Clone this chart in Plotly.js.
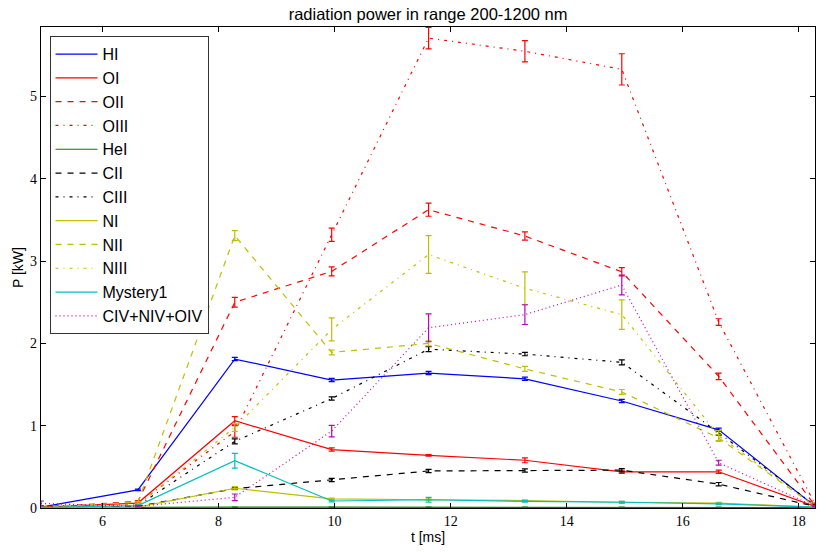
<!DOCTYPE html>
<html>
<head>
<meta charset="utf-8">
<script src="https://cdn.plot.ly/plotly-3.0.1.min.js"></script>
<style>
  html, body { margin: 0; padding: 0; background: #fff; }
  #chart { width: 826px; height: 552px; }
</style>
</head>
<body>
<div id="chart"></div>
<script>
// time axis [ms]
const t = [4.94, 6.61, 8.28, 9.95, 11.62, 13.28, 14.95, 16.62, 18.28];

// series names
const names = ['HI', 'OI', 'OII', 'OIII', 'HeI', 'CII', 'CIII', 'NI', 'NII', 'NIII', 'Mystery1', 'CIV+NIV+OIV'];

// values [kW]
const HI       = [0.01, 0.22, 1.81, 1.555, 1.64, 1.57, 1.30, 0.95, 0.02];
const OI       = [0.01, 0.06, 1.06, 0.71, 0.64, 0.58, 0.44, 0.44, 0.02];
const OII      = [0.01, 0.08, 2.50, 2.875, 3.625, 3.305, 2.87, 1.60, 0.03];
const OIII     = [0.02, 0.05, 0.93, 3.32, 5.71, 5.55, 5.33, 2.26, 0.05];
const HeI      = [0.005, 0.01, 0.01, 0.01, 0.01, 0.01, 0.01, 0.01, 0.005];
const CII      = [0.005, 0.02, 0.235, 0.34, 0.45, 0.455, 0.46, 0.29, 0.02];
const CIII     = [0.005, 0.03, 0.81, 1.33, 1.93, 1.87, 1.77, 0.915, 0.03];
const NI       = [0.005, 0.01, 0.24, 0.11, 0.10, 0.09, 0.07, 0.06, 0.01];
const NII      = [0.01, 0.07, 3.31, 1.89, 2.00, 1.69, 1.41, 0.85, 0.02];
const NIII     = [0.01, 0.04, 0.98, 2.17, 3.08, 2.67, 2.35, 0.88, 0.02];
const Mystery1 = [0.005, 0.03, 0.575, 0.085, 0.10, 0.08, 0.07, 0.05, 0.01];
const CIV      = [0.055, 0.02, 0.13, 0.935, 2.19, 2.35, 2.71, 0.55, 0.02];

// error bars [kW]
const HI_err       = [0.005, 0.01, 0.02, 0.02, 0.02, 0.02, 0.02, 0.02, 0.005];
const OI_err       = [0.005, 0.01, 0.05, 0.02, 0.01, 0.03, 0.02, 0.02, 0.005];
const OII_err      = [0.005, 0.01, 0.06, 0.055, 0.08, 0.05, 0.05, 0.04, 0.01];
const OIII_err     = [0.01, 0.01, 0.07, 0.08, 0.13, 0.13, 0.19, 0.04, 0.01];
const HeI_err      = [0.002, 0.002, 0.002, 0.002, 0.002, 0.002, 0.002, 0.002, 0.002];
const CII_err      = [0.005, 0.005, 0.01, 0.02, 0.02, 0.02, 0.02, 0.02, 0.005];
const CIII_err     = [0.005, 0.005, 0.03, 0.02, 0.03, 0.02, 0.03, 0.03, 0.005];
const NI_err       = [0.005, 0.005, 0.02, 0.01, 0.01, 0.01, 0.01, 0.01, 0.005];
const NII_err      = [0.005, 0.01, 0.06, 0.03, 0.03, 0.03, 0.03, 0.04, 0.005];
const NIII_err     = [0.005, 0.01, 0.05, 0.14, 0.23, 0.20, 0.18, 0.06, 0.005];
const Mystery1_err = [0.005, 0.005, 0.09, 0.01, 0.03, 0.01, 0.01, 0.01, 0.005];
const CIV_err      = [0.03, 0.01, 0.04, 0.07, 0.17, 0.12, 0.12, 0.03, 0.005];

const values = [HI, OI, OII, OIII, HeI, CII, CIII, NI, NII, NIII, Mystery1, CIV];
const errors = [HI_err, OI_err, OII_err, OIII_err, HeI_err, CII_err, CIII_err, NI_err, NII_err, NIII_err, Mystery1_err, CIV_err];

const colors = ['#0000ff', '#ff0000', '#ff0000', '#ff0000', '#008000', '#000000', '#000000',
                '#bfbf00', '#bfbf00', '#bfbf00', '#00bfbf', '#bf00bf'];
const DASHED = '6px,6px', DASHDOT = '3px,5px,1px,5px', DOTTED = '1px,3px';
const dashes = ['solid', 'solid', DASHED, DASHDOT, 'solid', DASHED, DASHDOT,
                'solid', DASHED, DASHDOT, 'solid', DOTTED];

const traces = names.map((n, i) => ({
  type: 'scatter',
  mode: 'lines',
  name: n,
  x: t,
  y: values[i],
  line: { color: colors[i], width: 1.2, dash: dashes[i] },
  error_y: { type: 'data', array: errors[i], visible: true, color: colors[i], thickness: 1.2, width: 3 }
}));

const tickFont = { family: 'Liberation Serif, DejaVu Serif, serif', size: 14, color: '#000' };
const sans = 'Liberation Sans, Arial, DejaVu Sans, sans-serif';

const layout = {
  width: 826, height: 552,
  margin: { l: 41, r: 11, t: 27, b: 44 },
  paper_bgcolor: '#fff', plot_bgcolor: '#fff',
  title: { text: 'radiation power in range 200-1200 nm', font: { family: sans, size: 16.5, color: '#000' },
           x: 0.5183, xanchor: 'center', y: 0.975, yanchor: 'middle' },
  xaxis: {
    range: [4.94, 18.28], tickvals: [6, 8, 10, 12, 14, 16, 18],
    ticks: 'inside', ticklen: 5, tickcolor: '#000', tickwidth: 1,
    showline: true, linecolor: '#000', linewidth: 1.2, mirror: 'ticks',
    showgrid: false, zeroline: false, tickfont: tickFont,
    title: { text: 't [ms]', font: { family: sans, size: 14, color: '#000' }, standoff: 3 }
  },
  yaxis: {
    range: [0, 5.845], tickvals: [0, 1, 2, 3, 4, 5],
    ticks: 'inside', ticklen: 5, tickcolor: '#000', tickwidth: 1,
    showline: true, linecolor: '#000', linewidth: 1.2, mirror: 'ticks',
    showgrid: false, zeroline: false, tickfont: tickFont,
    title: { text: 'P [kW]', font: { family: sans, size: 14, color: '#000' }, standoff: 3 }
  },
  showlegend: true,
  legend: {
    x: 0.011, y: 0.981, xanchor: 'left', yanchor: 'top',
    bgcolor: '#fff', bordercolor: '#333', borderwidth: 1,
    font: { family: sans, size: 16, color: '#000' },
    tracegroupgap: 0, itemwidth: 42
  }
};

Plotly.newPlot('chart', traces, layout, { displayModeBar: false, staticPlot: true });
</script>
</body>
</html>
